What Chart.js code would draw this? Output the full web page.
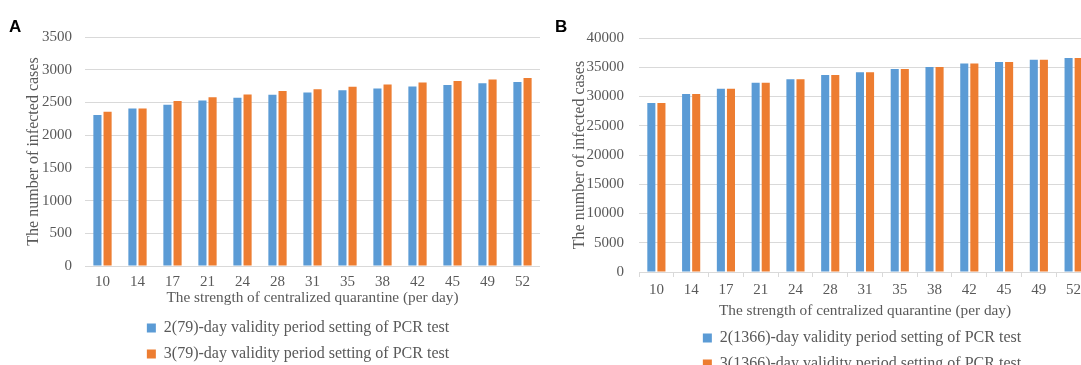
<!DOCTYPE html>
<html>
<head>
<meta charset="utf-8">
<script src="https://cdn.jsdelivr.net/npm/chart.js@4.4.0/dist/chart.umd.min.js"></script>
<style>
html, body { margin: 0; padding: 0; background: #fff; overflow: hidden; width: 1081px; height: 365px; }
.panel { position: absolute; top: 0; }
#panelA { left: 0; width: 540px; height: 372px; }
#panelB { left: 540px; width: 551px; height: 382px; }
.tag { position: absolute; font-family: "Liberation Sans", Arial, sans-serif; font-weight: bold; font-size: 17px; color: #000; }
</style>
</head>
<body>
<div class="panel" id="panelA"><canvas id="chartA"></canvas></div>
<div class="panel" id="panelB"><canvas id="chartB"></canvas></div>
<div class="tag" style="left:9px;top:17px">A</div>
<div class="tag" style="left:555px;top:17px">B</div>
<script>
// x categories: strength of centralized quarantine (per day)
const quarantine = ["10", "14", "17", "21", "24", "28", "31", "35", "38", "42", "45", "49", "52"]

// panel A, infected cases
const casesA2 = [2306, 2408, 2463, 2530, 2570, 2616, 2653, 2688, 2714, 2745, 2765, 2795, 2811]
const casesA3 = [2356, 2408, 2520, 2581, 2622, 2673, 2703, 2739, 2775, 2806, 2826, 2852, 2872]

// panel B, infected cases
const casesB2 = [28890, 30430, 31330, 32360, 32930, 33680, 34130, 34710, 35050, 35620, 35910, 36300, 36590]
const casesB3 = [28890, 30430, 31330, 32360, 32930, 33680, 34130, 34710, 35050, 35620, 35910, 36300, 36590]

const blue = "#5B9BD5"
const orange = "#ED7D31"
const gridGray = "#D9D9D9"
const textGray = "#595959"

Chart.defaults.font.family = '"Liberation Serif", "Times New Roman", serif'
Chart.defaults.color = textGray

// legend is centred on a given x instead of the whole canvas
const legendCenter = {
    id: "legendCenter",
    beforeDraw(chart, args, opts) {
        const lg = chart.legend
        if (!lg || opts.x == null) return
        const w = lg.right - lg.left
        lg.left = opts.x - w / 2
        lg.right = opts.x + w / 2
    }
}

const barChart = (canvasId, s) => {
    return new Chart(document.getElementById(canvasId).getContext("2d"), {
        type: "bar",
        data: {
            labels: quarantine,
            datasets: [{
                label: s.label2,
                data: s.data2,
                backgroundColor: blue,
                borderWidth: 0,
                categoryPercentage: 0.58,
                barPercentage: 0.8
            }, {
                label: s.label3,
                data: s.data3,
                backgroundColor: orange,
                borderWidth: 0,
                categoryPercentage: 0.58,
                barPercentage: 0.8
            }]
        },
        options: {
            responsive: true,
            maintainAspectRatio: false,
            animation: false,
            layout: { padding: { left: s.padLeft, top: s.padTop, right: 0, bottom: 0 } },
            scales: {
                x: {
                    grid: {
                        display: s.xTicks,
                        drawOnChartArea: false,
                        drawTicks: s.xTicks,
                        tickLength: 5,
                        color: gridGray
                    },
                    border: { display: true, color: gridGray },
                    ticks: { padding: s.xTickPad, font: { size: 15 }, color: textGray },
                    title: {
                        display: true,
                        text: "The strength of centralized quarantine (per day)",
                        font: { size: 15.3 },
                        color: textGray,
                        padding: { top: 0, bottom: s.xTitlePad }
                    },
                    afterFit: (scale) => { scale.height = s.xHeight }
                },
                y: {
                    min: 0,
                    max: s.yMax,
                    ticks: {
                        stepSize: s.yStep,
                        padding: s.yTickPad,
                        font: { size: 15 },
                        color: textGray,
                        callback: (v) => String(v)
                    },
                    grid: { color: gridGray, drawTicks: false },
                    border: { display: false },
                    title: {
                        display: true,
                        text: "The number of infected cases",
                        font: { size: 16 },
                        color: textGray,
                        padding: { top: 0, bottom: 0 }
                    },
                    afterFit: (scale) => { scale.width = s.yWidth }
                }
            },
            plugins: {
                legend: {
                    position: "bottom",
                    labels: {
                        boxWidth: 9,
                        boxHeight: 9,
                        padding: 10,
                        font: { size: 16 },
                        color: textGray
                    }
                },
                tooltip: { enabled: false },
                legendCenter: { x: s.legendX }
            }
        },
        plugins: [legendCenter]
    })
}

const chartA = barChart("chartA", {
    label2: "2(79)-day validity period setting of PCR test",
    label3: "3(79)-day validity period setting of PCR test",
    data2: casesA2,
    data3: casesA3,
    yMax: 3500,
    yStep: 500,
    padLeft: 24,
    padTop: 37,
    yWidth: 61,
    yTickPad: 13,
    xTicks: false,
    xTickPad: 7,
    xHeight: 44,
    xTitlePad: 3,
    legendX: 298
})

const chartB = barChart("chartB", {
    label2: "2(1366)-day validity period setting of PCR test",
    label3: "3(1366)-day validity period setting of PCR test",
    data2: casesB2,
    data3: casesB3,
    yMax: 40000,
    yStep: 5000,
    padLeft: 30,
    padTop: 38,
    yWidth: 69,
    yTickPad: 15,
    xTicks: true,
    xTickPad: 4,
    xHeight: 48,
    xTitlePad: 0,
    legendX: 322
})
</script>
</body>
</html>
